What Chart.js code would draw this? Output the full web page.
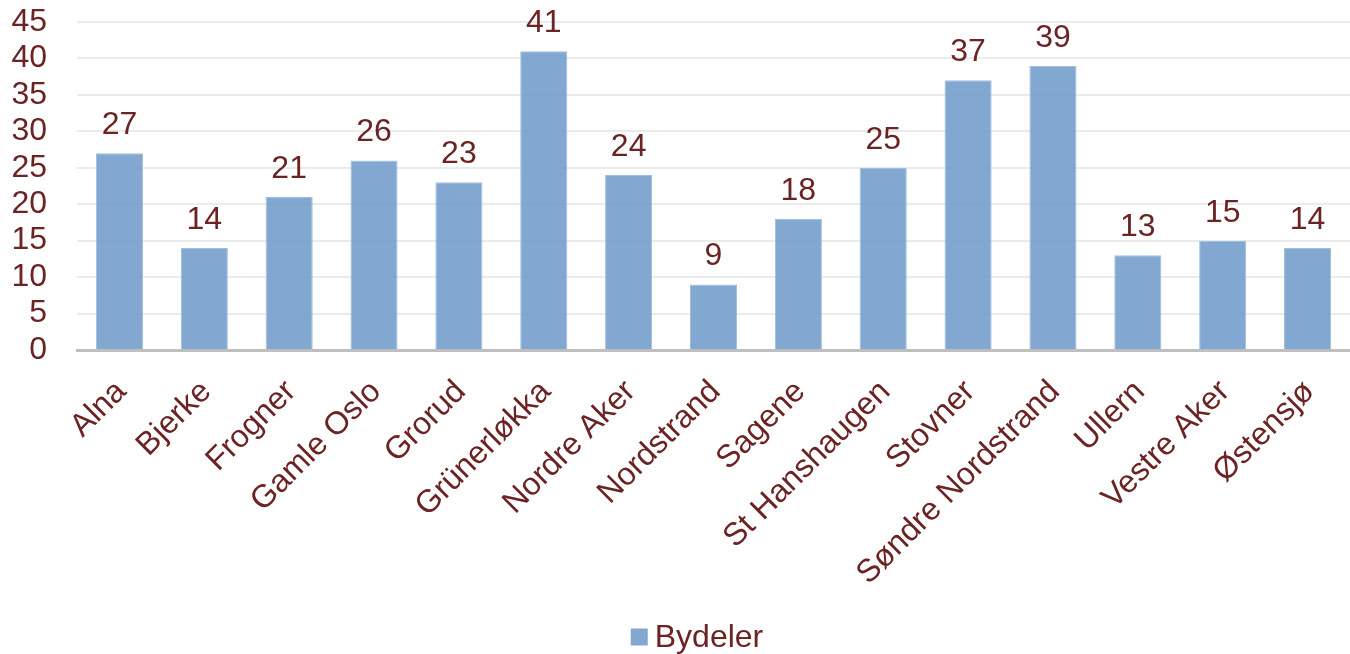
<!DOCTYPE html>
<html>
<head>
<meta charset="utf-8">
<script src="https://cdn.jsdelivr.net/npm/chart.js@4"></script>
<style>
  html, body { margin: 0; padding: 0; background: #fff; }
  #wrap { width: 1350px; height: 654px; position: relative; }
</style>
</head>
<body>
<div id="wrap"><canvas id="bydelChart"></canvas></div>
<script>
const bydeler = ['Alna', 'Bjerke', 'Frogner', 'Gamle Oslo', 'Grorud', 'Grünerløkka', 'Nordre Aker',
  'Nordstrand', 'Sagene', 'St Hanshaugen', 'Stovner', 'Søndre Nordstrand', 'Ullern', 'Vestre Aker', 'Østensjø']
const antall = [27, 14, 21, 26, 23, 41, 24, 9, 18, 25, 37, 39, 13, 15, 14]
const yTicks = [0, 5, 10, 15, 20, 25, 30, 35, 40, 45]
const seriesName = 'Bydeler'

const textColor = '#6b2323'
const barColor = 'rgba(116, 158, 204, 0.9)'
const font = { family: '"Liberation Sans", Arial, sans-serif', size: 32 }

// value labels above each bar
const valueLabels = {
  id: 'valueLabels',
  afterDatasetsDraw(chart) {
    const { ctx } = chart
    const meta = chart.getDatasetMeta(0)
    ctx.save()
    ctx.fillStyle = textColor
    ctx.font = `${font.size}px ${font.family}`
    ctx.textAlign = 'center'
    ctx.textBaseline = 'alphabetic'
    meta.data.forEach((bar, i) => {
      ctx.fillText(String(antall[i]), bar.x, bar.y - 19)
    })
    ctx.restore()
  },
}

// small legend at the bottom: square swatch + series name, tight gap
const bottomLegend = {
  id: 'bottomLegend',
  afterDraw(chart) {
    const { ctx, width, height } = chart
    const box = 17
    const gap = 7
    ctx.save()
    ctx.font = `${font.size}px ${font.family}`
    const textW = ctx.measureText(seriesName).width
    const total = box + gap + textW
    const x0 = width / 2 + 22 - total / 2
    const cy = height - 17
    ctx.fillStyle = barColor
    ctx.fillRect(x0, cy - box / 2, box, box)
    ctx.fillStyle = textColor
    ctx.textAlign = 'left'
    ctx.textBaseline = 'middle'
    ctx.fillText(seriesName, x0 + box + gap, cy + 1)
    ctx.restore()
  },
}

new Chart(document.getElementById('bydelChart'), {
  type: 'bar',
  data: {
    labels: bydeler,
    datasets: [{
      label: seriesName,
      data: antall,
      backgroundColor: barColor,
      borderColor: 'rgba(160, 190, 222, 1)',
      borderWidth: 1,
      barPercentage: 0.555,
      categoryPercentage: 1,
    }],
  },
  options: {
    responsive: true,
    maintainAspectRatio: false,
    animation: false,
    layout: { padding: { top: 22, right: 0, left: 0, bottom: 33 } },
    plugins: {
      legend: { display: false },
      tooltip: { enabled: false },
    },
    scales: {
      x: {
        // hidden tick marks push the rotated labels down without widening the padding
        grid: { display: true, color: 'rgba(0,0,0,0)', drawTicks: true, tickLength: 13, tickColor: 'rgba(0,0,0,0)' },
        border: { color: '#bfbfbf', width: 3 },
        ticks: {
          color: textColor,
          font,
          maxRotation: 45,
          minRotation: 45,
          padding: 10,
          labelOffset: 2,
          autoSkip: false,
        },
        afterFit(scale) { scale.height = 271 },
      },
      y: {
        min: 0,
        max: 45,
        afterBuildTicks(scale) { scale.ticks = yTicks.map((v) => ({ value: v })) },
        // invisible tick marks keep the labels away from the plot
        grid: { color: '#ebebeb', lineWidth: 2, drawTicks: true, tickLength: 30, tickColor: 'rgba(0,0,0,0)' },
        border: { display: false },
        ticks: {
          color: textColor,
          font,
          padding: 0,
          autoSkip: false,
          stepSize: 5,
        },
        afterFit(scale) { scale.width = 77 },
      },
    },
  },
  plugins: [valueLabels, bottomLegend],
})
</script>
</body>
</html>
